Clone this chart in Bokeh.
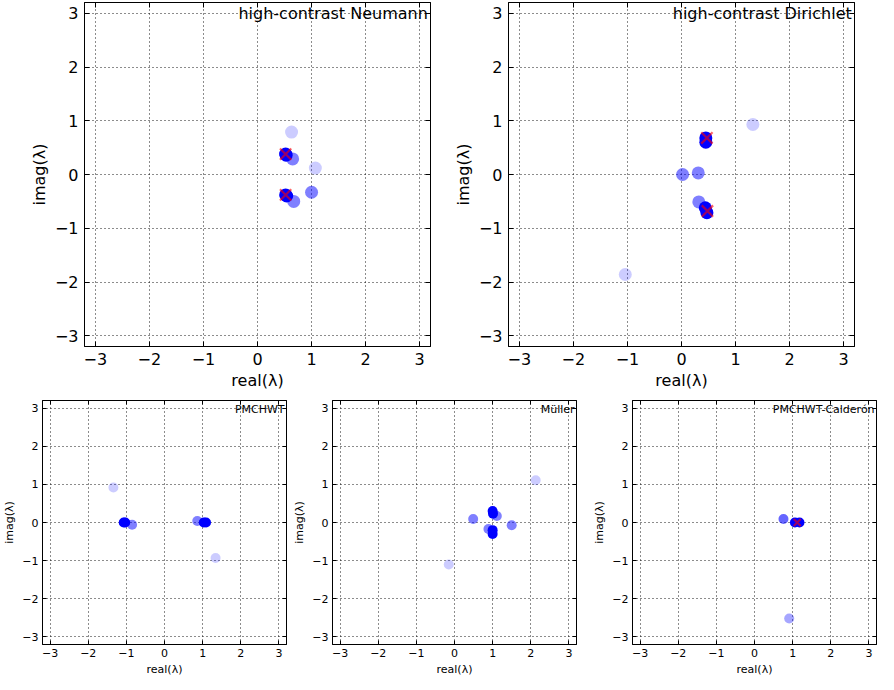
from bokeh.plotting import figure
from bokeh.models import FixedTicker, LinearAxis, Label
from bokeh.layouts import column, row
from bokeh.embed import file_html
from bokeh.resources import INLINE

# ---------------- data (eigenvalues: real, imag, opacity) ----------------
ticks = [-3, -2, -1, 0, 1, 2, 3]

neu_re = [0.63, 1.07, 0.65, 1.00, 0.67, 0.52, 0.53, 0.52, 0.54]
neu_im = [0.79, 0.12, 0.29, -0.33, -0.50, 0.38, 0.36, -0.38, -0.40]
neu_a = [0.2, 0.2, 0.5, 0.5, 0.5, 1.0, 1.0, 1.0, 1.0]
neu_x_re = [0.52, 0.52]
neu_x_im = [0.38, -0.38]

dir_re = [1.32, -1.04, 0.02, 0.31, 0.32, 0.45, 0.45, 0.44, 0.47]
dir_im = [0.93, -1.86, 0.00, 0.03, -0.51, 0.68, 0.60, -0.62, -0.71]
dir_a = [0.2, 0.2, 0.5, 0.5, 0.5, 1.0, 1.0, 1.0, 1.0]
dir_x_re = [0.47, 0.48]
dir_x_im = [0.68, -0.68]

pm_re = [-1.34, 1.34, -0.85, 0.86, -1.07, -1.03, 1.03, 1.09]
pm_im = [0.92, -0.93, -0.06, 0.04, 0.00, 0.00, 0.00, 0.00]
pm_a = [0.2, 0.2, 0.5, 0.5, 1.0, 1.0, 1.0, 1.0]

mu_re = [2.13, -0.15, 0.49, 1.50, 1.11, 0.89, 1.00, 1.01, 1.00, 1.00]
mu_im = [1.11, -1.10, 0.09, -0.07, 0.17, -0.17, 0.30, 0.23, -0.20, -0.30]
mu_a = [0.2, 0.2, 0.5, 0.5, 0.5, 0.5, 1.0, 1.0, 1.0, 1.0]

cal_re = [0.91, 0.76, 1.06, 1.18]
cal_im = [-2.52, 0.09, 0.00, 0.00]
cal_a = [0.35, 0.6, 1.0, 1.0]
cal_x_re = [1.12]
cal_x_im = [0.00]

FONT = "DejaVu Sans"


def make_fig(title, fw, fh, lb, rb, tb, bb, tick_fs, lab_fs, title_fs, tick_len,
             title_xy, lab_standoff, tick_standoff):
    p = figure(x_range=(-3.2, 3.2), y_range=(-3.2, 3.2),
               frame_width=fw, frame_height=fh,
               min_border_left=lb, min_border_right=rb,
               min_border_top=tb, min_border_bottom=bb,
               output_backend="svg", toolbar_location=None,
               x_axis_label="real(λ)", y_axis_label="imag(λ)")
    p.background_fill_color = "white"
    p.border_fill_color = "white"
    p.outline_line_color = "black"
    p.outline_line_width = 1
    p.outline_line_alpha = 1
    tk = FixedTicker(ticks=ticks)
    overrides = {t: str(t).replace("-", "\u2212") for t in ticks}
    for ax in (p.xaxis[0], p.yaxis[0]):
        ax.ticker = tk
        ax.major_label_overrides = overrides
        ax.major_label_text_font = FONT
        ax.major_label_text_font_size = tick_fs
        ax.major_label_text_color = "black"
        ax.axis_label_text_font = FONT
        ax.axis_label_text_font_size = lab_fs
        ax.axis_label_text_font_style = "normal"
        ax.axis_label_text_color = "black"
        ax.axis_label_standoff = lab_standoff
        ax.major_label_standoff = tick_standoff
        ax.major_tick_in = tick_len
        ax.major_tick_out = 0
        ax.minor_tick_line_color = None
        ax.axis_line_color = "black"
        ax.major_tick_line_color = "black"
    blank = {t: "" for t in ticks}
    for side in ("right", "above"):
        ax = LinearAxis(ticker=tk, major_label_overrides=blank,
                        major_label_text_font_size="1px",
                        major_label_standoff=0, major_tick_in=tick_len,
                        major_tick_out=0, minor_tick_line_color=None,
                        axis_line_color="black", major_tick_line_color="black")
        p.add_layout(ax, side)
    for g in (p.xgrid[0], p.ygrid[0]):
        g.ticker = tk
        g.grid_line_color = "black"
        g.grid_line_dash = "1 3"
        g.grid_line_width = 1
        g.grid_line_alpha = 0.9
    p.add_layout(Label(x=title_xy[0], y=title_xy[1], text=title,
                       text_align="right", text_baseline="top",
                       text_font=FONT, text_font_size=title_fs,
                       text_color="black"))
    return p


def add_points(p, re, im, alpha, size, xre=None, xim=None, xsize=14, xw=2.5):
    order = sorted(range(len(re)), key=lambda i: alpha[i])
    for i in order:
        p.scatter([re[i]], [im[i]], marker="circle", size=size,
                  fill_color="blue", fill_alpha=alpha[i], line_color=None)
    if xre:
        p.scatter(xre, xim, marker="x", size=xsize, line_color="red",
                  line_alpha=0.6, line_width=xw)


big = dict(fh=344, tb=2, bb=46, tick_fs="16px", lab_fs="16px", title_fs="16px",
           tick_len=5, title_xy=(3.15, 3.17), lab_standoff=3, tick_standoff=6)
small = dict(fh=244, tb=8, bb=30, tick_fs="11px", lab_fs="11px", title_fs="11px",
             tick_len=4, title_xy=(3.15, 3.13), lab_standoff=3, tick_standoff=4)

p1 = make_fig("high-contrast Neumann", 346, lb=84, rb=6, **big)
add_points(p1, neu_re, neu_im, neu_a, 13, neu_x_re, neu_x_im, 16, 2.2)

p2 = make_fig("high-contrast Dirichlet", 346, lb=72, rb=18, **big)
add_points(p2, dir_re, dir_im, dir_a, 13, dir_x_re, dir_x_im, 16, 2.2)

p3 = make_fig("PMCHWT", 244, lb=40, rb=2, **small)
add_points(p3, pm_re, pm_im, pm_a, 10)

p4 = make_fig("Müller", 244, lb=44, rb=4, **small)
add_points(p4, mu_re, mu_im, mu_a, 10)

p5 = make_fig("PMCHWT-Calderón", 244, lb=52, rb=2, **small)
add_points(p5, cal_re, cal_im, cal_a, 10, cal_x_re, cal_x_im, 10, 2)

layout = column(row(p1, p2), row(p3, p4, p5))

open("out.html", "w").write(file_html(layout, INLINE))
